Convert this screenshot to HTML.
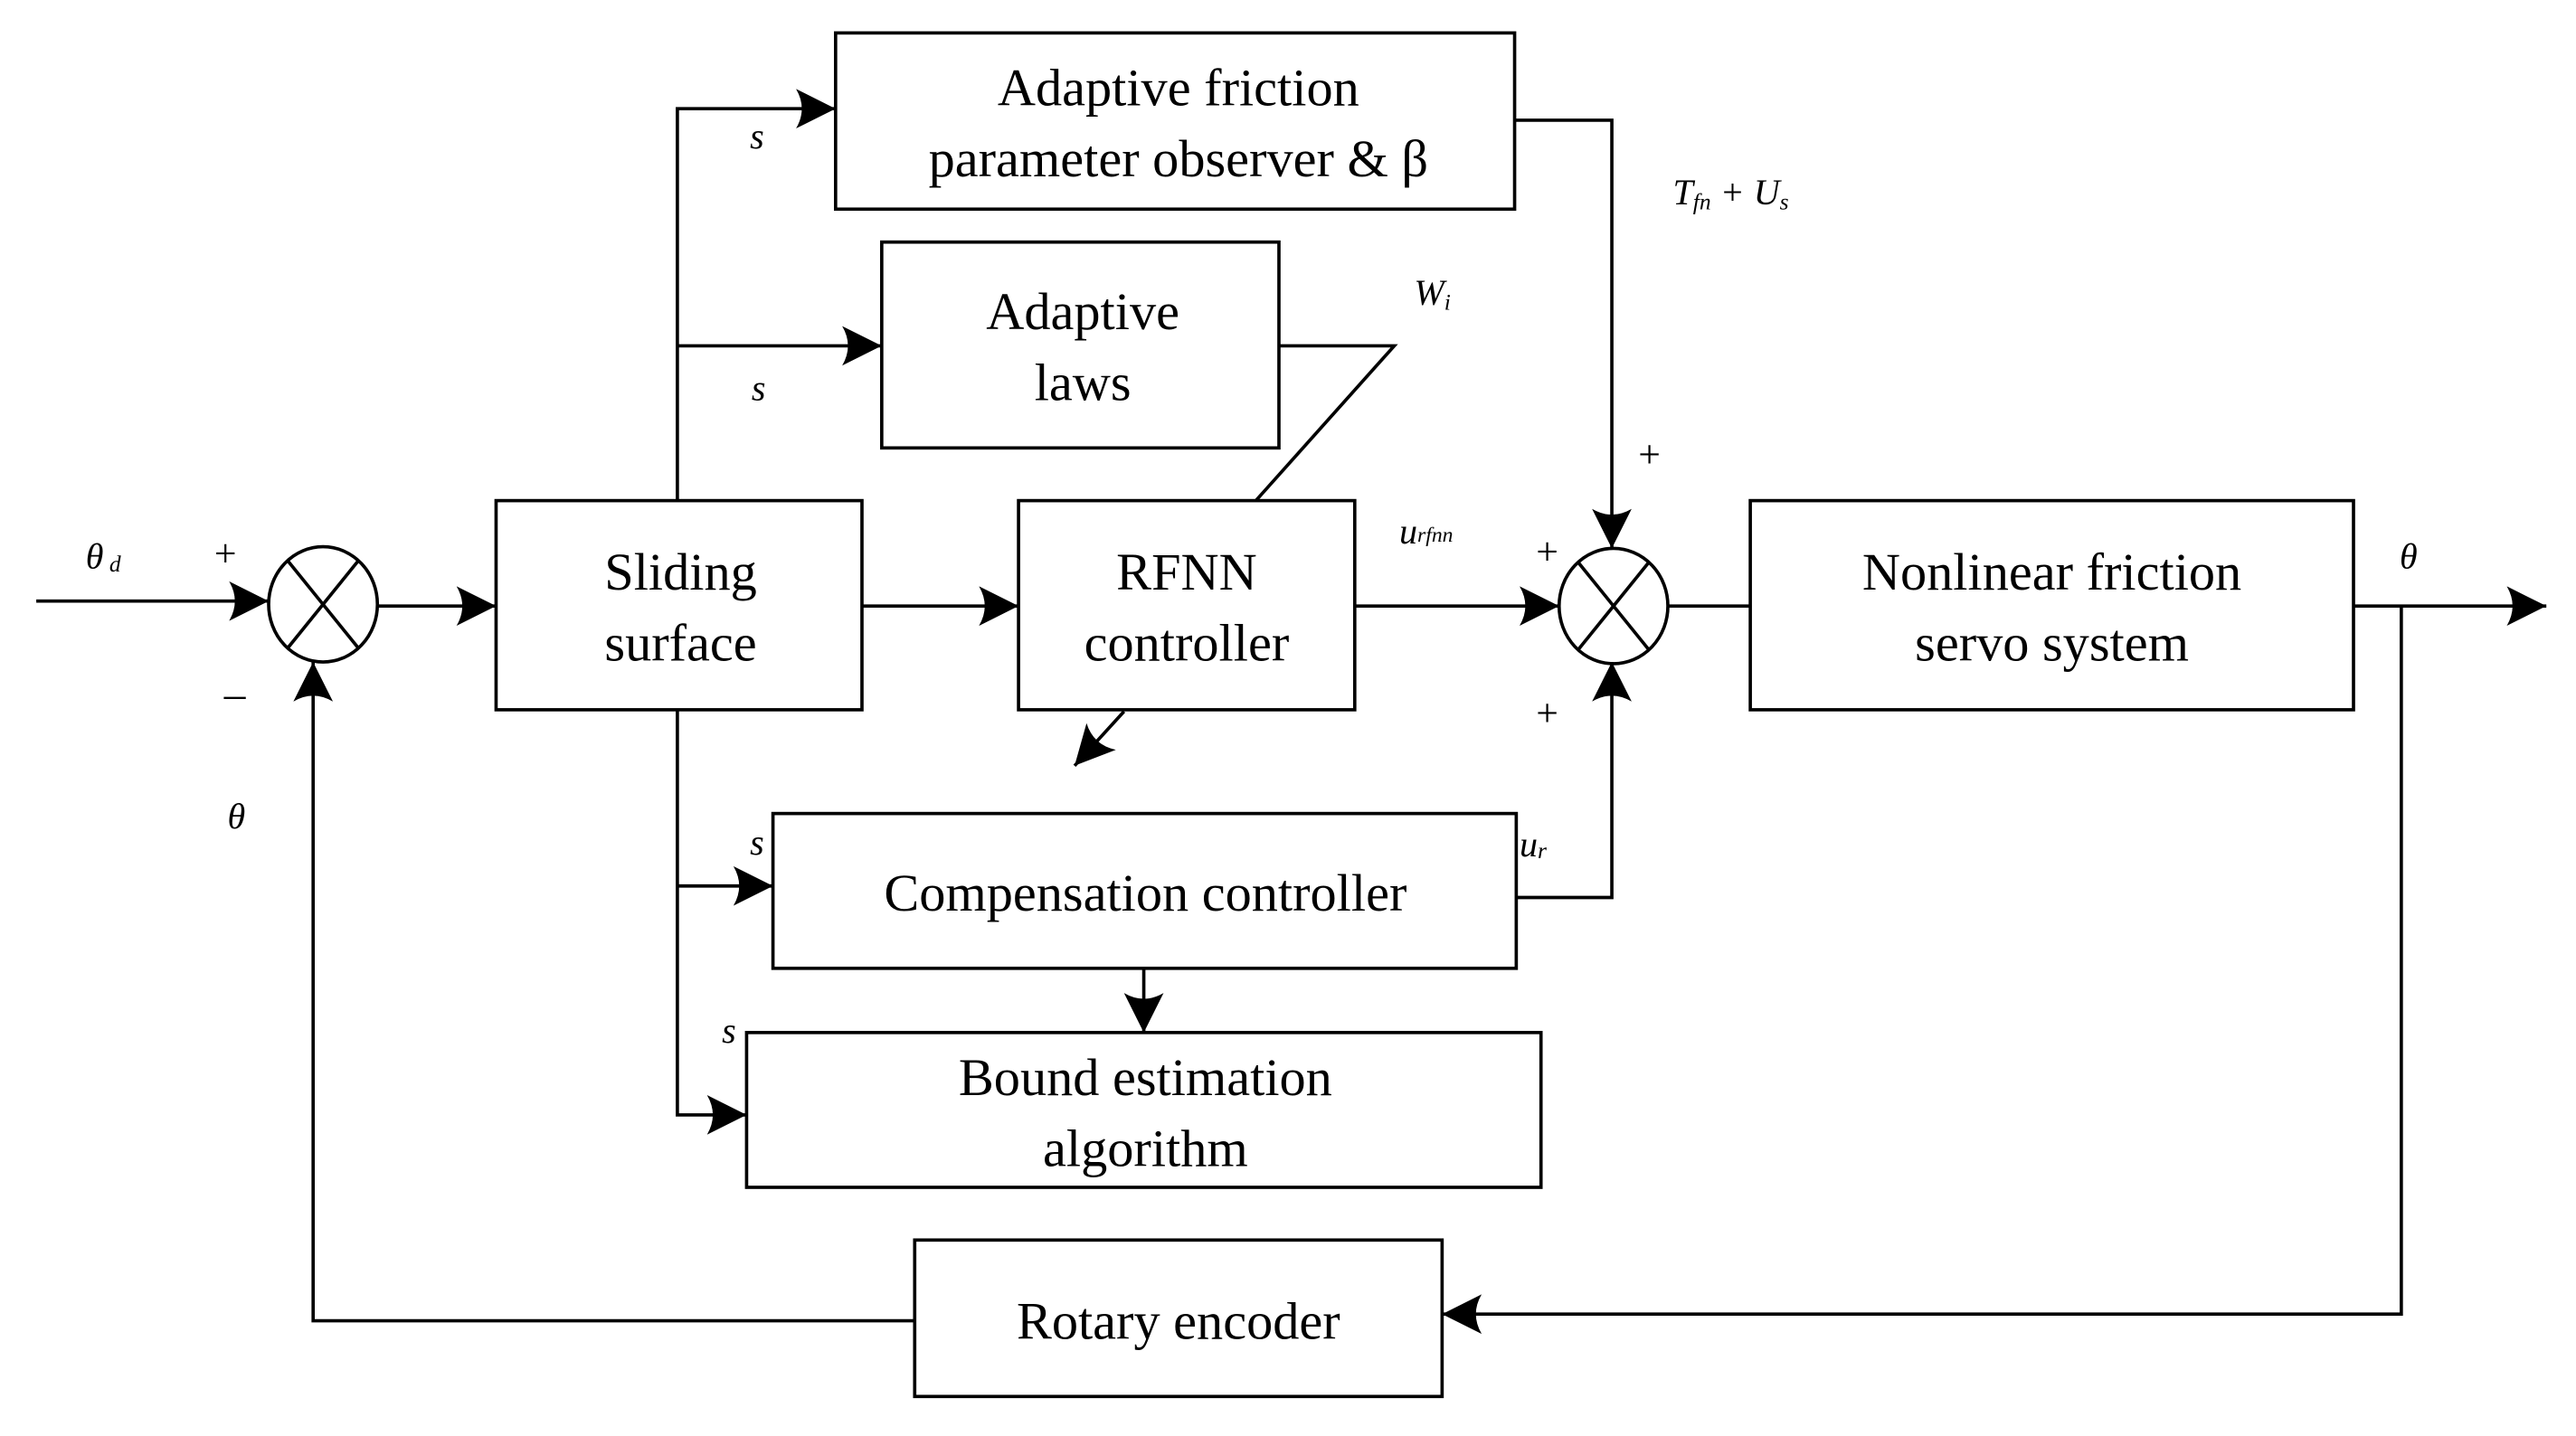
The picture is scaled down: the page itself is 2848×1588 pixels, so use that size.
<!DOCTYPE html>
<html><head><meta charset="utf-8"><style>
html,body{margin:0;padding:0;background:#fff;}
svg{display:block;}
text{font-family:"Liberation Serif",serif;fill:#000;}
.b{font-size:32px;text-anchor:middle;}
.i{font-style:italic;font-size:22px;}
</style></head><body>
<svg width="2848" height="1588" viewBox="0 0 1563 872" preserveAspectRatio="none" xmlns="http://www.w3.org/2000/svg">
<defs>
<marker id="a" markerUnits="userSpaceOnUse" markerWidth="30" markerHeight="30" refX="24" refY="12" orient="auto">
<path d="M0,0 L24,12 L0,24 Q7,12 0,0 Z" fill="#000"/>
</marker>
</defs>
<g fill="none" stroke="#000" stroke-width="2">
<!-- boxes -->
<rect x="507" y="20" width="412" height="107"/>
<rect x="535" y="147" width="241" height="125"/>
<rect x="301" y="304" width="222" height="127"/>
<rect x="618" y="304" width="204" height="127"/>
<rect x="1062" y="304" width="366" height="127"/>
<rect x="469" y="494" width="451" height="94"/>
<rect x="453" y="627" width="482" height="94"/>
<rect x="555" y="753" width="320" height="95"/>
<!-- sums -->
<ellipse cx="196" cy="367" rx="33" ry="35"/>
<line x1="175" y1="341" x2="217" y2="393"/><line x1="217" y1="341" x2="175" y2="393"/>
<ellipse cx="979" cy="368" rx="33" ry="35"/>
<line x1="958" y1="342" x2="1000" y2="394"/><line x1="1000" y1="342" x2="958" y2="394"/>
<!-- main path -->
<line x1="22" y1="365" x2="163" y2="365" marker-end="url(#a)"/>
<line x1="229" y1="368" x2="301" y2="368" marker-end="url(#a)"/>
<line x1="523" y1="368" x2="618" y2="368" marker-end="url(#a)"/>
<line x1="822" y1="368" x2="946" y2="368" marker-end="url(#a)"/>
<line x1="1012" y1="368" x2="1062" y2="368"/>
<line x1="1428" y1="368" x2="1545" y2="368" marker-end="url(#a)"/>
<!-- feedback -->
<polyline points="1457,368 1457,798 875,798" marker-end="url(#a)"/>
<polyline points="555,802 190,802 190,402" marker-end="url(#a)"/>
<!-- top branches -->
<polyline points="411,304 411,66 507,66" marker-end="url(#a)"/>
<line x1="411" y1="210" x2="535" y2="210" marker-end="url(#a)"/>
<polyline points="919,73 978,73 978,333" marker-end="url(#a)"/>
<polyline points="776,210 846,210 762,304"/>
<line x1="682" y1="432" x2="652" y2="465" marker-end="url(#a)"/>
<!-- bottom branches -->
<polyline points="411,431 411,677 453,677" marker-end="url(#a)"/>
<line x1="411" y1="538" x2="469" y2="538" marker-end="url(#a)"/>
<polyline points="920,545 978,545 978,402" marker-end="url(#a)"/>
<line x1="694" y1="588" x2="694" y2="627" marker-end="url(#a)"/>
</g>
<!-- block text -->
<text class="b" x="715" y="64">Adaptive friction</text>
<text class="b" x="715" y="107">parameter observer &amp; β</text>
<text class="b" x="657" y="200">Adaptive</text>
<text class="b" x="657" y="243">laws</text>
<text class="b" x="413" y="358">Sliding</text>
<text class="b" x="413" y="401">surface</text>
<text class="b" x="720" y="358">RFNN</text>
<text class="b" x="720" y="401">controller</text>
<text class="b" x="1245" y="358">Nonlinear friction</text>
<text class="b" x="1245" y="401">servo system</text>
<text class="b" x="695" y="553">Compensation controller</text>
<text class="b" x="695" y="665">Bound estimation</text>
<text class="b" x="695" y="708">algorithm</text>
<text class="b" x="715" y="813">Rotary encoder</text>
<!-- labels -->
<text class="i" x="52" y="345">θ<tspan font-size="14" dy="2"> d</tspan></text>
<text x="130" y="344" font-size="24">+</text>
<text x="136" y="430" font-size="26">–</text>
<text class="i" x="138" y="503">θ</text>
<text class="i" x="1456" y="345">θ</text>
<text class="i" x="455" y="90">s</text>
<text class="i" x="456" y="243">s</text>
<text class="i" x="455" y="519">s</text>
<text class="i" x="438" y="633">s</text>
<text class="i" x="1015" y="124">T<tspan font-size="14" dy="3">fn</tspan><tspan dy="-3"> + </tspan>U<tspan font-size="14" dy="3">s</tspan></text>
<text class="i" x="858" y="185">W<tspan font-size="14" dy="3">i</tspan></text>
<text class="i" x="849" y="330">u<tspan font-size="13" dy="-1">rfnn</tspan></text>
<text class="i" x="922" y="520">u<tspan font-size="14" dy="1">r</tspan></text>
<text x="994" y="284" font-size="24">+</text>
<text x="932" y="343" font-size="24">+</text>
<text x="932" y="441" font-size="24">+</text>
</svg>
</body></html>
